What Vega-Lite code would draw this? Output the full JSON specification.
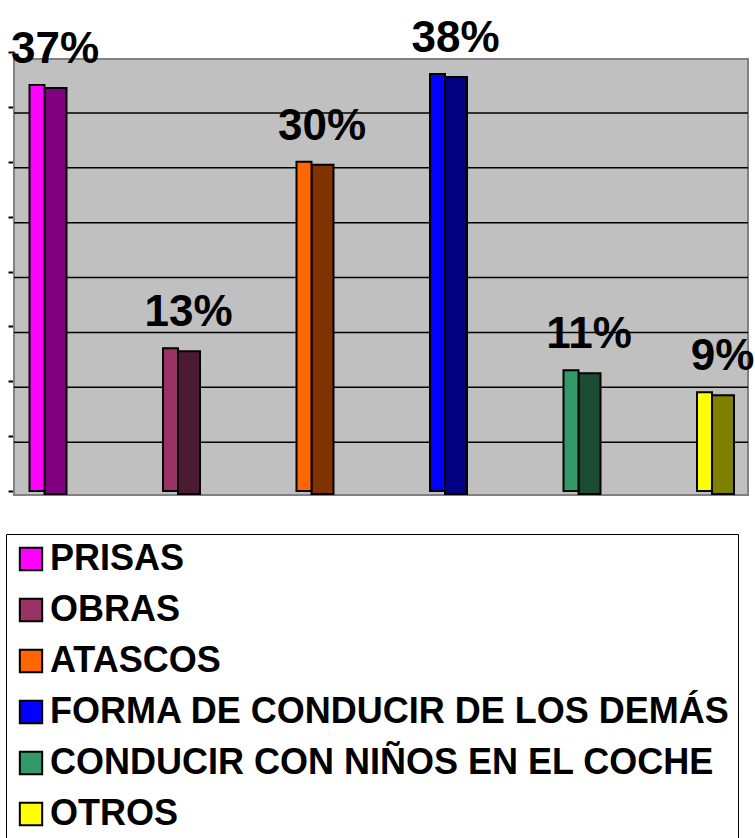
{
  "$schema": "https://vega.github.io/schema/vega-lite/v6.json",
  "width": 734,
  "height": 439,
  "autosize": {"type": "none"},
  "padding": {"left": 14, "top": 52, "right": 7, "bottom": 347},
  "background": "white",
  "config": {
    "view": {"stroke": null},
    "font": "Liberation Sans",
    "axisY": {
      "labels": false, "grid": false, "title": null,
      "domainColor": "black", "domainWidth": 2,
      "tickColor": "black", "tickWidth": 2, "tickSize": 6
    }
  },
  "datasets": {
    "causas": [
      {"causa": "PRISAS", "porcentaje": 0.37},
      {"causa": "OBRAS", "porcentaje": 0.13},
      {"causa": "ATASCOS", "porcentaje": 0.30},
      {"causa": "FORMA DE CONDUCIR DE LOS DEMÁS", "porcentaje": 0.38},
      {"causa": "CONDUCIR CON NIÑOS EN EL COCHE", "porcentaje": 0.11},
      {"causa": "OTROS", "porcentaje": 0.09}
    ],
    "rejilla": [
      {"nivel": 0.05}, {"nivel": 0.10}, {"nivel": 0.15}, {"nivel": 0.20},
      {"nivel": 0.25}, {"nivel": 0.30}, {"nivel": 0.35}
    ],
    "fondo": [{"desde": 0, "hasta": 0.4}]
  },
  "resolve": {"scale": {"color": "independent"}, "legend": {"color": "independent"}},
  "layer": [
    {
      "data": {"name": "fondo"},
      "mark": {"type": "rect", "fill": "#c0c0c0", "stroke": "#808080", "strokeWidth": 2, "yOffset": 4, "y2Offset": 7},
      "encoding": {
        "y": {"field": "desde", "type": "quantitative", "scale": {"domain": [0, 0.4], "nice": false},
              "axis": {"values": [0, 0.05, 0.1, 0.15, 0.2, 0.25, 0.3, 0.35, 0.4], "title": null}},
        "y2": {"field": "hasta"}
      }
    },
    {
      "data": {"name": "rejilla"},
      "mark": {"type": "rule", "color": "black", "strokeWidth": 1.5, "yOffset": 6},
      "encoding": {
        "y": {"field": "nivel", "type": "quantitative",
              "axis": {"values": [0, 0.05, 0.1, 0.15, 0.2, 0.25, 0.3, 0.35, 0.4], "title": null}}
      }
    },
    {
      "data": {"name": "causas"},
      "mark": {"type": "bar", "width": 22, "xOffset": 18.5, "yOffset": 3, "y2Offset": 3, "stroke": "black", "strokeWidth": 2},
      "encoding": {
        "x": {"field": "causa", "type": "nominal", "sort": null, "axis": null},
        "y": {"field": "porcentaje", "type": "quantitative",
              "axis": {"values": [0, 0.05, 0.1, 0.15, 0.2, 0.25, 0.3, 0.35, 0.4], "title": null}},
        "color": {
          "field": "causa", "type": "nominal", "sort": null, "legend": null,
          "scale": {
            "domain": ["PRISAS", "OBRAS", "ATASCOS", "FORMA DE CONDUCIR DE LOS DEMÁS", "CONDUCIR CON NIÑOS EN EL COCHE", "OTROS"],
            "range": ["#800080", "#4c1a33", "#803300", "#000080", "#1a4d33", "#808000"]
          }
        }
      }
    },
    {
      "data": {"name": "causas"},
      "mark": {"type": "bar", "width": 15, "stroke": "black", "strokeWidth": 2, "opacity": 1},
      "encoding": {
        "x": {
          "field": "causa", "type": "nominal", "sort": null, "axis": null,
          "scale": {"range": [-43.75, 757.25], "paddingInner": 0, "paddingOuter": 0}
        },
        "y": {
          "field": "porcentaje", "type": "quantitative",
          "scale": {"domain": [0, 0.4], "nice": false},
          "axis": {"values": [0, 0.05, 0.1, 0.15, 0.2, 0.25, 0.3, 0.35, 0.4], "title": null}
        },
        "color": {
          "field": "causa", "type": "nominal", "sort": null,
          "scale": {
            "domain": ["PRISAS", "OBRAS", "ATASCOS", "FORMA DE CONDUCIR DE LOS DEMÁS", "CONDUCIR CON NIÑOS EN EL COCHE", "OTROS"],
            "range": ["#ff00ff", "#993366", "#ff6600", "#0000ff", "#339966", "#ffff00"]
          },
          "legend": {
            "title": null,
            "orient": "none",
            "legendX": -8,
            "legendY": 482,
            "direction": "vertical",
            "fillColor": "white",
            "strokeColor": "black",
            "padding": 7,
            "symbolType": "square",
            "symbolSize": 500,
            "symbolStrokeColor": "black",
            "symbolStrokeWidth": 2,
            "symbolOpacity": 1,
            "labelFont": "Liberation Sans",
            "labelFontSize": 36,
            "labelFontWeight": "bold",
            "labelColor": "black",
            "labelLimit": 1000,
            "labelOffset": 1,
            "rowPadding": 15
          }
        }
      }
    },
    {
      "data": {"name": "causas"},
      "mark": {"type": "text", "font": "Liberation Sans", "fontSize": 44, "fontWeight": "bold", "color": "black", "baseline": "alphabetic", "align": "center", "dx": 18, "dy": -22},
      "encoding": {
        "x": {"field": "causa", "type": "nominal", "sort": null, "axis": null},
        "y": {"field": "porcentaje", "type": "quantitative",
              "axis": {"values": [0, 0.05, 0.1, 0.15, 0.2, 0.25, 0.3, 0.35, 0.4], "title": null}},
        "text": {"field": "porcentaje", "type": "quantitative", "format": ".0%"}
      }
    }
  ]
}
